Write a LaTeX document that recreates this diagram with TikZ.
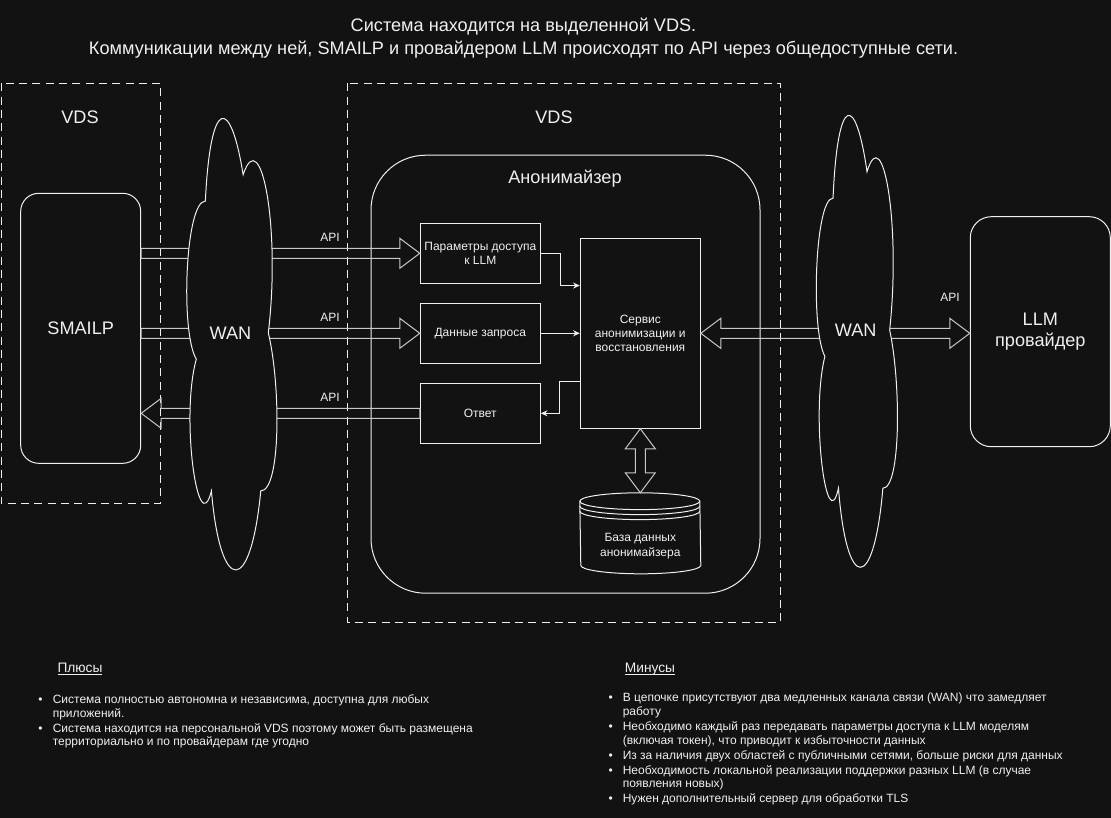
\documentclass[tikz,border=0pt]{standalone}
\usepackage{fontspec}
\setmainfont{Liberation Sans}
\usetikzlibrary{positioning, calc, arrows.meta}

\definecolor{bg}{HTML}{121212}
\definecolor{fg}{HTML}{F0F0F0}
\definecolor{shaft}{HTML}{C8C8C8}

\tikzset{
  lbl/.style={text=fg, font=\fontsize{9}{10.8}\selectfont, align=center, inner sep=0pt},
  biglbl/.style={text=fg, font=\fontsize{13.6}{15.2}\selectfont, align=center, inner sep=0pt},
  blk/.style={draw=fg, lbl, minimum width=90pt, minimum height=45pt},
  rblk/.style={draw=fg, biglbl},
  vds/.style={draw=fg, dash pattern=on 6pt off 4pt},
  conn/.style={draw=fg, -{Stealth[length=5pt,width=4.5pt]}},
  flex/.style={draw=shaft},
  wan/.style={draw=fg, fill=bg},
  head/.style={text=fg, font=\fontsize{10.3}{12}\selectfont, anchor=base, inner sep=0pt},
  note/.style={text=fg, font=\fontsize{9}{10.2}\selectfont, anchor=base west, inner sep=0pt},
}

% hollow block arrow, head at #2
\newcommand\flexarrow[2]{%
  \coordinate (fb) at ($(#2)!15pt!(#1)$);
  \draw[flex] ($(#1)!3.75pt!90:(#2)$) -- ($(fb)!3.75pt!90:(#2)$) -- ($(fb)!11.25pt!90:(#2)$) -- (#2)
    -- ($(fb)!11.25pt!-90:(#2)$) -- ($(fb)!3.75pt!-90:(#2)$) -- ($(#1)!3.75pt!-90:(#2)$) -- cycle;}
% hollow block arrow, heads at both ends
\newcommand\flexboth[2]{%
  \coordinate (fa) at ($(#1)!15pt!(#2)$);
  \coordinate (fb) at ($(#2)!15pt!(#1)$);
  \draw[flex] (#1) -- ($(fa)!11.25pt!90:(#2)$) -- ($(fa)!3.75pt!90:(#2)$) -- ($(fb)!3.75pt!90:(#2)$)
    -- ($(fb)!11.25pt!90:(#2)$) -- (#2) -- ($(fb)!11.25pt!-90:(#2)$) -- ($(fb)!3.75pt!-90:(#2)$)
    -- ($(fa)!3.75pt!-90:(#2)$) -- ($(fa)!11.25pt!-90:(#2)$) -- cycle;}
% WAN cloud in the box x, y, w, h
\newcommand\wancloud[4]{%
  \begin{scope}[shift={(#1,#2)}, xscale=#3, yscale=#4]
    \draw[wan] (0.25,0.25) .. controls (0.05,0.25) and (0,0.5) .. (0.16,0.55)
      .. controls (0,0.66) and (0.18,0.9) .. (0.31,0.8)
      .. controls (0.4,1) and (0.7,1) .. (0.8,0.8)
      .. controls (1,0.8) and (1,0.6) .. (0.875,0.5)
      .. controls (1,0.3) and (0.8,0.1) .. (0.625,0.2)
      .. controls (0.5,0.05) and (0.3,0.05) .. (0.25,0.25) -- cycle;
  \end{scope}}

\begin{document}
\begin{tikzpicture}[x=0.75pt, y=-0.75pt, line width=0.75pt]
  \fill[bg] (0,0) rectangle (1111,818);
  \useasboundingbox (0,0) rectangle (1111,818);

  % title
  \node[biglbl, font=\fontsize{13.6}{16.9}\selectfont] (title) at (523.5,38)
    {Система находится на выделенной VDS.\\Коммуникации между ней, SMAILP и провайдером LLM происходят по API через общедоступные сети.};

  % VDS areas
  \draw[vds] (1,83.3) rectangle (160.7,503.3);
  \draw[vds] (347.7,83.3) rectangle (780.3,622.7);
  \node[biglbl] (vdsL) at (80,117.7) {VDS};
  \node[biglbl] (vdsC) at (554,117.7) {VDS};

  % main blocks
  \node[rblk, minimum width=90pt, minimum height=202.5pt, rounded corners=13.5pt] (smailp) at (80.7,328.3) {SMAILP};
  \node[rblk, minimum width=291.75pt, minimum height=328.5pt, rounded corners=41pt] (anon) at (565.5,374.2) {};
  \node[biglbl] (anonT) at (565,178.3) {Анонимайзер};
  \node[rblk, minimum width=105pt, minimum height=172.5pt, rounded corners=15.75pt] (llm) at (1040.3,331.7) {LLM\\провайдер};

  \node[blk] (params) at (480.3,253.3) {Параметры доступа\\к LLM};
  \node[blk] (req) at (480.3,333.3) {Данные запроса};
  \node[blk] (resp) at (480.3,413.3) {Ответ};
  \node[blk, minimum height=142.5pt] (service) at (640.3,333.3) {Сервис\\анонимизации и\\восстановления};

  % database
  \node[minimum width=90pt, minimum height=60pt, inner sep=0pt] (db) at (640.3,533.3) {};
  \draw[fg] ($(db.north west)+(0,8.4)$) arc[start angle=180, end angle=0, x radius=45pt, y radius=6.3pt]
    -- ($(db.south east)+(0,-8.4)$) arc[start angle=0, end angle=-180, x radius=45pt, y radius=6.3pt] -- cycle;
  \foreach \dy in {8.4, 13.4, 18.4}
    \draw[fg] ($(db.north west)+(0,\dy)$) arc[start angle=180, end angle=360, x radius=45pt, y radius=6.3pt];
  \node[lbl] (dbT) at (640.3,546) {База данных\\анонимайзера};

  % inner connectors
  \coordinate (svcIn) at ($(service.north west)!0.25!(service.south west)$);
  \coordinate (svcOut) at ($(service.north west)!0.75!(service.south west)$);
  \draw[conn] (params.east) -- ++(20,0) |- (svcIn);
  \draw[conn] (req.east) -- (req.east -| service.west);
  \draw[conn] (svcOut) -- ++(-20,0) |- (resp.east);

  % API arrows
  \coordinate (smIn1) at (smailp.east |- params.west);
  \coordinate (smIn2) at (smailp.east |- req.west);
  \coordinate (smOut) at (smailp.east |- resp.west);
  \coordinate (llmIn) at (llm.west |- service.east);
  \flexarrow{smIn1}{params.west}
  \flexarrow{smIn2}{req.west}
  \flexarrow{resp.west}{smOut}
  \flexboth{service.east}{llmIn}
  \flexboth{service.south}{db.north}

  \node[lbl] (api1) at (330,237.3) {API};
  \node[lbl] (api2) at (330,317.3) {API};
  \node[lbl] (api3) at (330,397.3) {API};
  \node[lbl] (api4) at (950,297.7) {API};

  % networks
  \wancloud{180.2}{69.3}{100.7}{527}
  \node[biglbl] (wanL) at (230.5,332.8) {WAN};
  \wancloud{810.4}{66.3}{90.6}{527.4}
  \node[biglbl] (wanR) at (855.7,330) {WAN};

  % pros and cons
  \node[head] (prosH) at (80,672.5) {\underline{\smash{Плюсы}}};
  \node[note] (pros) at (38,703.5) {\begin{tabular}[t]{@{}l@{}l@{}}
    \makebox[10.7pt][l]{\textbullet} & Система полностью автономна и независима, доступна для любых\\
     & приложений.\\[1.1pt]
    \textbullet & Система находится на персональной VDS поэтому может быть размещена\\
     & территориально и по провайдерам где угодно
  \end{tabular}};

  \node[head] (consH) at (650,672.5) {\underline{\smash{Минусы}}};
  \node[note] (cons) at (608,701.8) {\begin{tabular}[t]{@{}l@{}l@{}}
    \makebox[10.7pt][l]{\textbullet} & В цепочке присутствуют два медленных канала связи (WAN) что замедляет\\
     & работу\\[1.1pt]
    \textbullet & Необходимо каждый раз передавать параметры доступа к LLM моделям\\
     & (включая токен), что приводит к избыточности данных\\[1.1pt]
    \textbullet & Из за наличия двух областей с публичными сетями, больше риски для данных\\[1.1pt]
    \textbullet & Необходимость локальной реализации поддержки разных LLM (в случае\\
     & появления новых)\\[1.1pt]
    \textbullet & Нужен дополнительный сервер для обработки TLS
  \end{tabular}};
\end{tikzpicture}
\end{document}
